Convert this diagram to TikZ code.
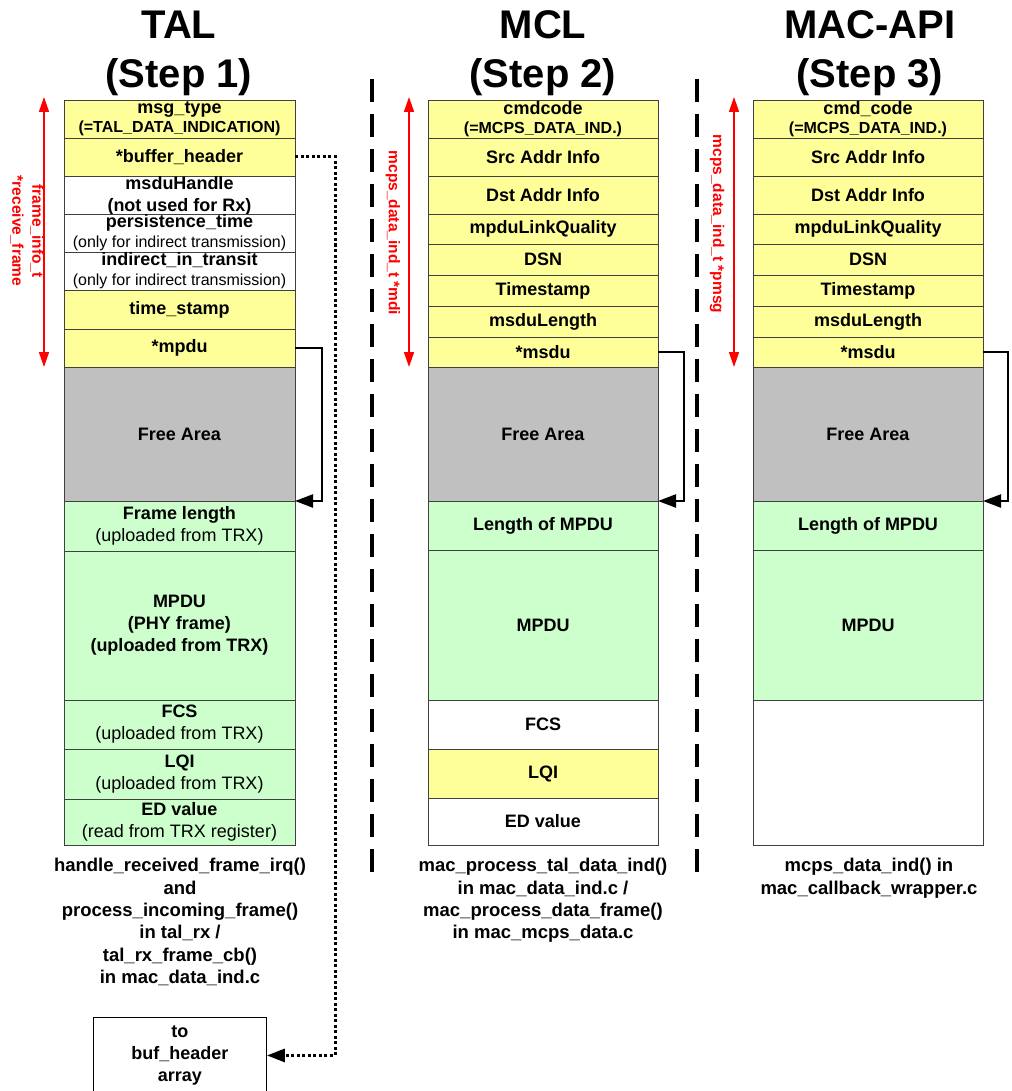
\documentclass[tikz,border=0pt]{standalone}
\usepackage{fontspec}
\setmainfont{Liberation Sans}
\usetikzlibrary{arrows.meta}
\definecolor{cyel}{HTML}{FFFF99}
\definecolor{cgrn}{HTML}{CCFFCC}
\definecolor{cgry}{HTML}{C0C0C0}
\definecolor{cred}{HTML}{FF0000}
\newcommand\smtxt{\fontsize{16}{17}\selectfont}
\newcommand\mycell[7]{\node[cellbox, fill=#6, minimum width=#3, minimum height={#5-#4}] (#1) at (#2,#4) {#7};}
\tikzset{
  cellbox/.style={draw=black!75, line width=0.9pt, anchor=north west, inner sep=0pt, outer sep=0pt, align=center, font=\fontsize{18}{22}\selectfont\bfseries},
  conn/.style={line width=2.3pt, -{Triangle[length=18pt,width=13pt]}},
  dotconn/.style={line width=3pt, dash pattern=on 3pt off 2.5pt, -{Triangle[length=18pt,width=13pt]}},
  sepline/.style={line width=3.5pt, dash pattern=on 23pt off 12pt},
  redarr/.style={cred, line width=1.5pt, {Triangle[length=15pt,width=10pt]}-{Triangle[length=15pt,width=10pt]}},
  redlbl/.style={text=cred, font=\fontsize{15.5}{20}\selectfont\bfseries, align=center, inner sep=0pt, rotate=-90},
  titletxt/.style={font=\fontsize{40}{48}\selectfont\bfseries, anchor=base, inner sep=0pt},
  captxt/.style={font=\fontsize{18.5}{22.4}\selectfont\bfseries, align=center, anchor=north, inner sep=0pt},
  bufbox/.style={draw=black, line width=0.9pt, fill=white, anchor=north west, inner sep=0pt, align=center, font=\fontsize{18}{22}\selectfont\bfseries}
}
\begin{document}
\begin{tikzpicture}[x=1pt,y=-1pt]
\fill[white] (0,0) rectangle (1011,1091);
\useasboundingbox (0,0) rectangle (1011,1091);

% titles
\node[titletxt] (h1a) at (179,39) {TAL};
\node[titletxt] (h1b) at (179,88) {(Step 1)};
\node[titletxt] (h2a) at (543,39) {MCL};
\node[titletxt] (h2b) at (543,88) {(Step 2)};
\node[titletxt] (h3a) at (870,39) {MAC-API};
\node[titletxt] (h3b) at (870,88) {(Step 3)};

% separators
\coordinate (s1a) at (372,79); \coordinate (s1b) at (372,873);
\coordinate (s2a) at (697,79); \coordinate (s2b) at (697,873);
\draw[sepline] (s1a) -- (s1b);
\draw[sepline] (s2a) -- (s2b);

% TAL column
\mycell{t1}{64}{231}{100}{138}{cyel}{msg\_type\\[-3pt]{\smtxt (=TAL\_DATA\_INDICATION)}}
\mycell{t2}{64}{231}{138}{176}{cyel}{*buffer\_header}
\mycell{t3}{64}{231}{176}{214}{white}{msduHandle\\(not used for Rx)}
\mycell{t4}{64}{231}{214}{252}{white}{persistence\_time\\[-2pt]{\smtxt\mdseries (only for indirect transmission)}}
\mycell{t5}{64}{231}{252}{290}{white}{indirect\_in\_transit\\[-2pt]{\smtxt\mdseries (only for indirect transmission)}}
\mycell{t6}{64}{231}{290}{329}{cyel}{time\_stamp}
\mycell{t7}{64}{231}{329}{367}{cyel}{*mpdu}
\mycell{t8}{64}{231}{367}{501}{cgry}{Free Area}
\mycell{t9}{64}{231}{501}{551}{cgrn}{Frame length\\{\mdseries (uploaded from TRX)}}
\mycell{t10}{64}{231}{551}{700}{cgrn}{MPDU\\(PHY frame)\\(uploaded from TRX)}
\mycell{t11}{64}{231}{700}{749}{cgrn}{FCS\\{\mdseries (uploaded from TRX)}}
\mycell{t12}{64}{231}{749}{799}{cgrn}{LQI\\{\mdseries (uploaded from TRX)}}
\mycell{t13}{64}{231}{799}{845}{cgrn}{ED value\\{\mdseries (read from TRX register)}}

% MCL column
\mycell{m1}{428}{230}{100}{138}{cyel}{cmdcode\\[-3pt]{\smtxt (=MCPS\_DATA\_IND.)}}
\mycell{m2}{428}{230}{138}{176}{cyel}{Src Addr Info}
\mycell{m3}{428}{230}{176}{214}{cyel}{Dst Addr Info}
\mycell{m4}{428}{230}{214}{244}{cyel}{mpduLinkQuality}
\mycell{m5}{428}{230}{244}{275}{cyel}{DSN}
\mycell{m6}{428}{230}{275}{306}{cyel}{Timestamp}
\mycell{m7}{428}{230}{306}{337}{cyel}{msduLength}
\mycell{m8}{428}{230}{337}{367}{cyel}{*msdu}
\mycell{m9}{428}{230}{367}{501}{cgry}{Free Area}
\mycell{m10}{428}{230}{501}{550}{cgrn}{Length of MPDU}
\mycell{m11}{428}{230}{550}{700}{cgrn}{MPDU}
\mycell{m12}{428}{230}{700}{749}{white}{FCS}
\mycell{m13}{428}{230}{749}{798}{cyel}{LQI}
\mycell{m14}{428}{230}{798}{845}{white}{ED value}

% MAC-API column
\mycell{a1}{753}{230}{100}{138}{cyel}{cmd\_code\\[-3pt]{\smtxt (=MCPS\_DATA\_IND.)}}
\mycell{a2}{753}{230}{138}{176}{cyel}{Src Addr Info}
\mycell{a3}{753}{230}{176}{214}{cyel}{Dst Addr Info}
\mycell{a4}{753}{230}{214}{244}{cyel}{mpduLinkQuality}
\mycell{a5}{753}{230}{244}{275}{cyel}{DSN}
\mycell{a6}{753}{230}{275}{306}{cyel}{Timestamp}
\mycell{a7}{753}{230}{306}{337}{cyel}{msduLength}
\mycell{a8}{753}{230}{337}{367}{cyel}{*msdu}
\mycell{a9}{753}{230}{367}{501}{cgry}{Free Area}
\mycell{a10}{753}{230}{501}{550}{cgrn}{Length of MPDU}
\mycell{a11}{753}{230}{550}{700}{cgrn}{MPDU}
\mycell{a12}{753}{230}{700}{845}{white}{}

% red dimension arrows and labels
\coordinate (r1a) at (44,97);  \coordinate (r1b) at (44,367);
\coordinate (r2a) at (409,97); \coordinate (r2b) at (409,367);
\coordinate (r3a) at (734,97); \coordinate (r3b) at (734,367);
\draw[redarr] (r1a) -- (r1b);
\draw[redarr] (r2a) -- (r2b);
\draw[redarr] (r3a) -- (r3b);
\node[redlbl] (l1) at (27,231) {frame\_info\_t\\*receive\_frame};
\node[redlbl] (l2) at (393,233) {mcps\_data\_ind\_t *mdi};
\node[redlbl] (l3) at (717,224) {mcps\_data\_ind\_t *pmsg};

% pointer arrows
\draw[conn] (t7.east) -- ++(27,0) |- (t8.south east);
\draw[conn] (m8.east) -- ++(26,0) |- (m9.south east);
\draw[conn] (a8.east) -- ++(25,0) |- (a9.south east);

% captions
\node[captxt] (c1) at (180,858) {handle\_received\_frame\_irq()\\and\\process\_incoming\_frame()\\in tal\_rx /\\tal\_rx\_frame\_cb()\\in mac\_data\_ind.c};
\node[captxt] (c2) at (543,858) {mac\_process\_tal\_data\_ind()\\in mac\_data\_ind.c /\\mac\_process\_data\_frame()\\in mac\_mcps\_data.c};
\node[captxt] (c3) at (869,858) {mcps\_data\_ind() in\\mac\_callback\_wrapper.c};

% buffer header box
\node[bufbox, minimum width=173, minimum height=76] (buf) at (93,1017) {to\\buf\_header\\array};
\draw[dotconn] (t2.east) -- ++(40,0) |- (buf.east);
\end{tikzpicture}
\end{document}
